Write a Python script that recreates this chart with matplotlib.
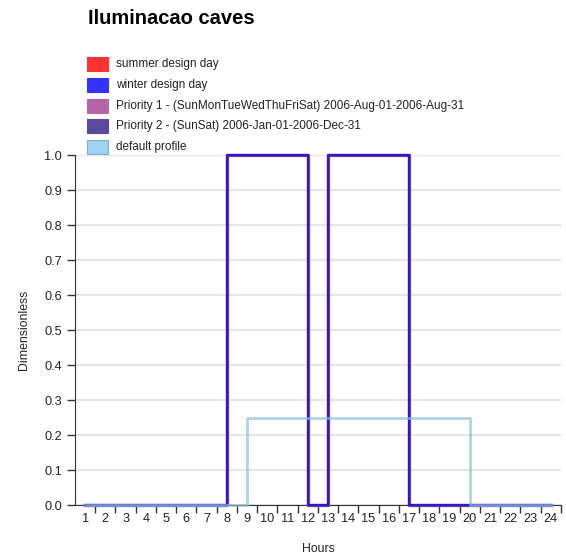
import matplotlib.pyplot as plt

plt.rcParams['font.family'] = ['Liberation Sans', 'DejaVu Sans']

# data: hourly schedule values (value at hour h holds until h+1)
hours = list(range(1, 25))
summer = [0, 0, 0, 0, 0, 0, 0, 1, 1, 1, 1, 0, 1, 1, 1, 1, 0, 0, 0, 0, 0, 0, 0, 0]
winter = [0, 0, 0, 0, 0, 0, 0, 1, 1, 1, 1, 0, 1, 1, 1, 1, 0, 0, 0, 0, 0, 0, 0, 0]
priority1 = [0, 0, 0, 0, 0, 0, 0, 1, 1, 1, 1, 0, 1, 1, 1, 1, 0, 0, 0, 0, 0, 0, 0, 0]
priority2 = [0, 0, 0, 0, 0, 0, 0, 1, 1, 1, 1, 0, 1, 1, 1, 1, 0, 0, 0, 0, 0, 0, 0, 0]
default = [0, 0, 0, 0, 0, 0, 0, 0, 0.25, 0.25, 0.25, 0.25, 0.25, 0.25, 0.25, 0.25,
           0.25, 0.25, 0.25, 0, 0, 0, 0, 0]

labels = ['summer design day', 'winter design day',
          'Priority 1 - (SunMonTueWedThuFriSat) 2006-Aug-01-2006-Aug-31',
          'Priority 2 - (SunSat) 2006-Jan-01-2006-Dec-31', 'default profile']
colors = ['#ff3333', '#3333ff', '#b565a7', '#5b4a9b', '#9fd3f0']

fig = plt.figure(figsize=(5.66, 5.56), dpi=100)
ax = fig.add_axes([0.1325, 0.0917, 0.8585, 0.6295])

ax.step(hours, summer, where='post', color='#ff3333', lw=2, clip_on=False, zorder=3)
ax.step(hours, priority1, where='post', color='#b565a7', lw=2.4, clip_on=False, zorder=3)
ax.step(hours, priority2, where='post', color='#5b4a9b', lw=2, clip_on=False, zorder=3)
ax.step(hours, winter, where='post', color='#2a00e0', lw=1.6, alpha=0.75, clip_on=False, zorder=3)
ax.step(hours, default, where='post', color='#8ec0da', lw=2, alpha=0.7, clip_on=False, zorder=4)

ax.set_xlim(0.5, 24.5)
ax.set_ylim(0, 1.0)

# labels at the hours, tick marks between them
ax.set_xticks(hours)
ax.set_xticklabels([str(h) for h in hours], fontsize=9.2, color='#222222')
ax.tick_params(axis='x', length=0, pad=6)
ax.set_xticks([h + 0.5 for h in hours], minor=True)
ax.tick_params(axis='x', which='minor', length=6, width=1, color='#333333', direction='out')

yt = [i / 10 for i in range(11)]
ax.set_yticks(yt)
ax.set_yticklabels([f'{v:.1f}' for v in yt], fontsize=9.2, color='#222222')
ax.tick_params(axis='y', length=6, width=1, color='#333333', direction='out')

ax.grid(axis='y', color='#e6e6e6', lw=1.6)
ax.set_axisbelow(True)
for s in ['top', 'right']:
    ax.spines[s].set_visible(False)
for s in ['left', 'bottom']:
    ax.spines[s].set_color('#333333')

ax.set_xlabel('Hours', fontsize=8.8, labelpad=13, color='#222222')
ax.set_ylabel('Dimensionless', fontsize=8.8, labelpad=10, color='#222222')

fig.text(88 / 566, 1 - 18 / 556, 'Iluminacao caves', fontsize=14.5, fontweight='bold',
         va='center', ha='left')

# legend drawn as colored squares
for i, (lab, c) in enumerate(zip(labels, colors)):
    yc = 64 + i * 20.8
    ec = '#7ab0d0' if i == 4 else c
    fig.patches.append(plt.Rectangle((87 / 566, 1 - (yc + 7) / 556), 21 / 566, 14 / 556,
                                     transform=fig.transFigure, facecolor=c, edgecolor=ec,
                                     lw=0.8))
    fig.text(116 / 566, 1 - yc / 556, lab, fontsize=8.5, va='center', ha='left', color='#222222')

plt.savefig('out.png', dpi=100)
